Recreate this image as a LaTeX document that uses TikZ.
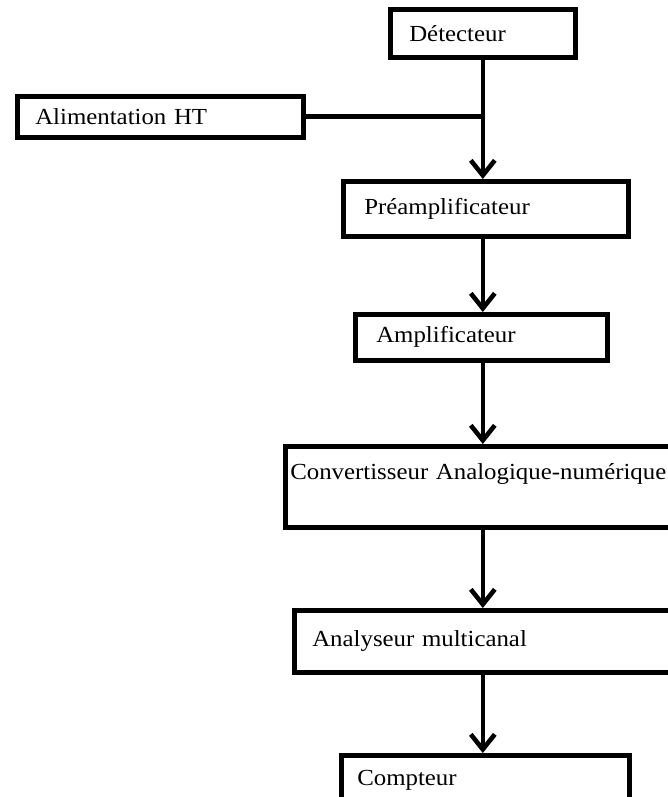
\documentclass[tikz,border=0pt]{standalone}
\usepackage{fontspec}
\setmainfont{Liberation Serif}[FakeStretch=1.08]
\usetikzlibrary{arrows.meta}
\tikzset{
  blk/.style={draw, line width=4.6pt, rectangle, anchor=north west, align=left,
    inner ysep=0pt, font=\fontsize{23}{27}\selectfont},
  flow/.style={line width=4.6pt, -{Straight Barb[length=15pt,width=24pt]}},
  wire/.style={line width=4.6pt}
}
\begin{document}
\begin{tikzpicture}[x=1pt,y=-1pt]
\useasboundingbox (0,0) rectangle (667,797);
\node[blk, text width=147pt, inner xsep=19pt, minimum height=48pt] (det) at (388,7) {Détecteur};
\node[blk, text width=250pt, inner xsep=18pt, minimum height=41pt] (alim) at (15,94) {Alimentation HT};
\node[blk, text width=243pt, inner xsep=21pt, minimum height=55pt] (pre) at (341,179) {Préamplificateur};
\node[blk, text width=210pt, inner xsep=21pt, minimum height=46pt] (amp) at (353,312) {Amplificateur};
\node[blk, text width=377pt, inner xsep=5pt, minimum height=81pt, text height=33pt, text depth=48pt] (can) at (283,444) {Convertisseur Analogique-numérique};
\node[blk, text width=360pt, inner xsep=18pt, minimum height=62pt] (mca) at (292,608) {Analyseur multicanal};
\node[blk, text width=256pt, inner xsep=16pt, minimum height=50pt] (cpt) at (339,753) {Compteur};
\coordinate (j) at (det.south |- alim.east);
\draw[wire] (alim.east) -- (j);
\draw[flow] (det.south) -- (pre.north -| det.south);
\draw[flow] (pre.south -| det.south) -- (amp.north -| det.south);
\draw[flow] (amp.south -| det.south) -- (can.north -| det.south);
\draw[flow] (can.south -| det.south) -- (mca.north -| det.south);
\draw[flow] (mca.south -| det.south) -- (cpt.north -| det.south);
\end{tikzpicture}
\end{document}
